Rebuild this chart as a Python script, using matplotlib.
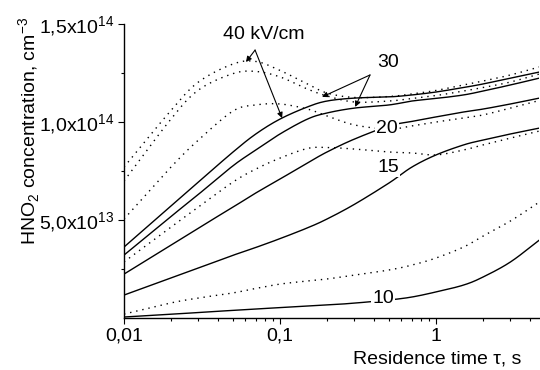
import matplotlib
matplotlib.use("Agg")
import matplotlib.pyplot as plt
import numpy as np
from matplotlib.ticker import FixedLocator, NullFormatter

plt.rcParams['font.family'] = ['Liberation Sans', 'DejaVu Sans']
plt.rcParams['mathtext.fontset'] = 'custom'
plt.rcParams['mathtext.rm'] = 'Liberation Sans'

# residence time, s
tau = [0.01, 0.02, 0.03, 0.05, 0.07, 0.1, 0.15, 0.2, 0.3, 0.5, 0.7, 1, 1.5, 2, 3, 4.6]

# solid curves (x1e13 cm^-3)
s40 = [3.62, 5.71, 6.94, 8.47, 9.39, 10.15, 10.77, 11.07, 11.22, 11.28, 11.38, 11.53, 11.76, 11.94, 12.24, 12.55]
s30 = [3.21, 5.18, 6.31, 7.77, 8.57, 9.39, 10.15, 10.46, 10.71, 10.87, 11.07, 11.20, 11.38, 11.58, 11.89, 12.24]
s20 = [2.24, 3.72, 4.59, 5.66, 6.38, 7.09, 7.91, 8.47, 9.13, 9.80, 10.03, 10.26, 10.51, 10.66, 10.92, 11.22]
s15 = [1.17, 2.04, 2.55, 3.20, 3.60, 4.05, 4.60, 5.05, 5.80, 6.89, 7.70, 8.32, 8.83, 9.08, 9.39, 9.69]
s10 = [0.05, 0.19, 0.28, 0.39, 0.46, 0.53, 0.61, 0.66, 0.76, 0.92, 1.07, 1.33, 1.68, 2.09, 2.86, 3.98]

# dotted curves (x1e13 cm^-3)
d40 = [7.70, 10.59, 12.04, 12.96, 13.09, 12.63, 11.94, 11.48, 11.25, 11.30, 11.43, 11.61, 11.89, 12.09, 12.40, 12.81]
d30 = [6.99, 10.15, 11.63, 12.47, 12.58, 12.30, 11.68, 11.33, 11.02, 11.07, 11.20, 11.35, 11.58, 11.76, 12.04, 12.45]
d20 = [5.05, 7.70, 9.08, 10.56, 10.87, 10.92, 10.66, 10.31, 9.85, 9.64, 9.80, 10.00, 10.20, 10.36, 10.71, 11.10]
d15 = [2.86, 4.64, 5.66, 6.94, 7.60, 8.16, 8.65, 8.70, 8.62, 8.47, 8.42, 8.32, 8.57, 8.83, 9.18, 9.54]
d10 = [0.20, 0.77, 1.02, 1.28, 1.51, 1.73, 1.89, 1.99, 2.19, 2.45, 2.70, 3.06, 3.62, 4.18, 4.95, 5.92]

ytick_vals = [5e13, 1e14, 1.5e14]
ytick_labels = ["5,0x10$^{13}$", "1,0x10$^{14}$", "1,5x10$^{14}$"]
xtick_vals = [0.01, 0.1, 1]
xtick_labels = ["0,01", "0,1", "1"]


def smooth(xs, ys, n=12):
    """Catmull-Rom curve through the read points (in log-x space) for drawing."""
    lx = np.log10(np.asarray(xs, float))
    y = np.asarray(ys, float)
    P = np.column_stack([lx, y])
    P = np.vstack([2 * P[0] - P[1], P, 2 * P[-1] - P[-2]])
    out = []
    t = np.linspace(0, 1, n, endpoint=False)[:, None]
    for i in range(1, len(P) - 2):
        p0, p1, p2, p3 = P[i - 1], P[i], P[i + 1], P[i + 2]
        seg = 0.5 * ((2 * p1) + (-p0 + p2) * t + (2 * p0 - 5 * p1 + 4 * p2 - p3) * t**2
                     + (-p0 + 3 * p1 - 3 * p2 + p3) * t**3)
        out.append(seg)
    out.append(P[-2][None, :])
    out = np.vstack(out)
    return 10 ** out[:, 0], out[:, 1]


fig = plt.figure(figsize=(5.4, 3.7), dpi=100)
ax = fig.add_axes([124/540, 52/370, 415/540, 294/370])

scale = 1e13
for s in (s40, s30, s20, s15, s10):
    xs, ys = smooth(tau, s)
    ax.plot(xs, ys * scale, color='black', lw=1.0, zorder=2)
for d in (d40, d30, d20, d15, d10):
    xs, ys = smooth(tau, d)
    ax.plot(xs, ys * scale, color='black', lw=1.0,
            linestyle=(0, (1, 3.5)), zorder=2)

ax.set_xscale('log')
ax.set_xlim(0.01, 4.57)
ax.set_ylim(0, 1.5e14)

ax.set_xticks(xtick_vals)
ax.set_xticklabels(xtick_labels)
ax.xaxis.set_minor_locator(FixedLocator(
    [m * 10.0**e for e in (-2, -1, 0) for m in range(2, 10) if m * 10.0**e < 4.57]))
ax.xaxis.set_minor_formatter(NullFormatter())
ax.set_yticks(ytick_vals)
ax.set_yticklabels(ytick_labels)
ax.yaxis.set_minor_locator(FixedLocator([2.5e13, 7.5e13, 1.25e14]))

ax.tick_params(which='major', direction='out', length=4, width=0.8, labelsize=14, pad=3)
ax.tick_params(which='minor', direction='out', length=2.5, width=0.8)
for sp in ('top', 'right'):
    ax.spines[sp].set_visible(False)
for sp in ('left', 'bottom'):
    ax.spines[sp].set_linewidth(1.0)

ax.set_xlabel("Residence time \u03c4, s", fontsize=14)
ax.xaxis.set_label_coords(0.754, -0.138)
ax.xaxis.label.set_va('center')
ax.set_ylabel("HNO$_2$ concentration, cm$^{-3}$", fontsize=14)
ax.yaxis.set_label_coords(-0.229, 0.636)
ax.yaxis.label.set_va('center')

akw = dict(arrowstyle='-|>', color='black', lw=0.8, mutation_scale=8,
           shrinkA=0, shrinkB=0)
ax.text(0.0789, 14.44e13, "40 kV/cm", fontsize=14, ha='center', va='center', zorder=4)
ax.annotate("", xy=(0.0605, 13.06e13), xytext=(0.0692, 13.67e13), arrowprops=akw)
ax.annotate("", xy=(0.1031, 10.2e13), xytext=(0.0692, 13.67e13), arrowprops=akw)

ax.text(0.492, 13.06e13, "30", fontsize=14, ha='center', va='center', zorder=4)
ax.annotate("", xy=(0.186, 11.28e13), xytext=(0.3775, 12.40e13), arrowprops=akw)
ax.annotate("", xy=(0.303, 10.77e13), xytext=(0.3775, 12.40e13), arrowprops=akw)

bb = dict(facecolor='white', edgecolor='none', pad=1.0)
ax.text(0.485, 9.69e13, "20", fontsize=14, ha='center', va='center', bbox=bb, zorder=4)
ax.text(0.492, 7.70e13, "15", fontsize=14, ha='center', va='center', bbox=bb, zorder=4)
ax.text(0.457, 1.02e13, "10", fontsize=14, ha='center', va='center', bbox=bb, zorder=4)

fig.savefig("out.png", dpi=100)
